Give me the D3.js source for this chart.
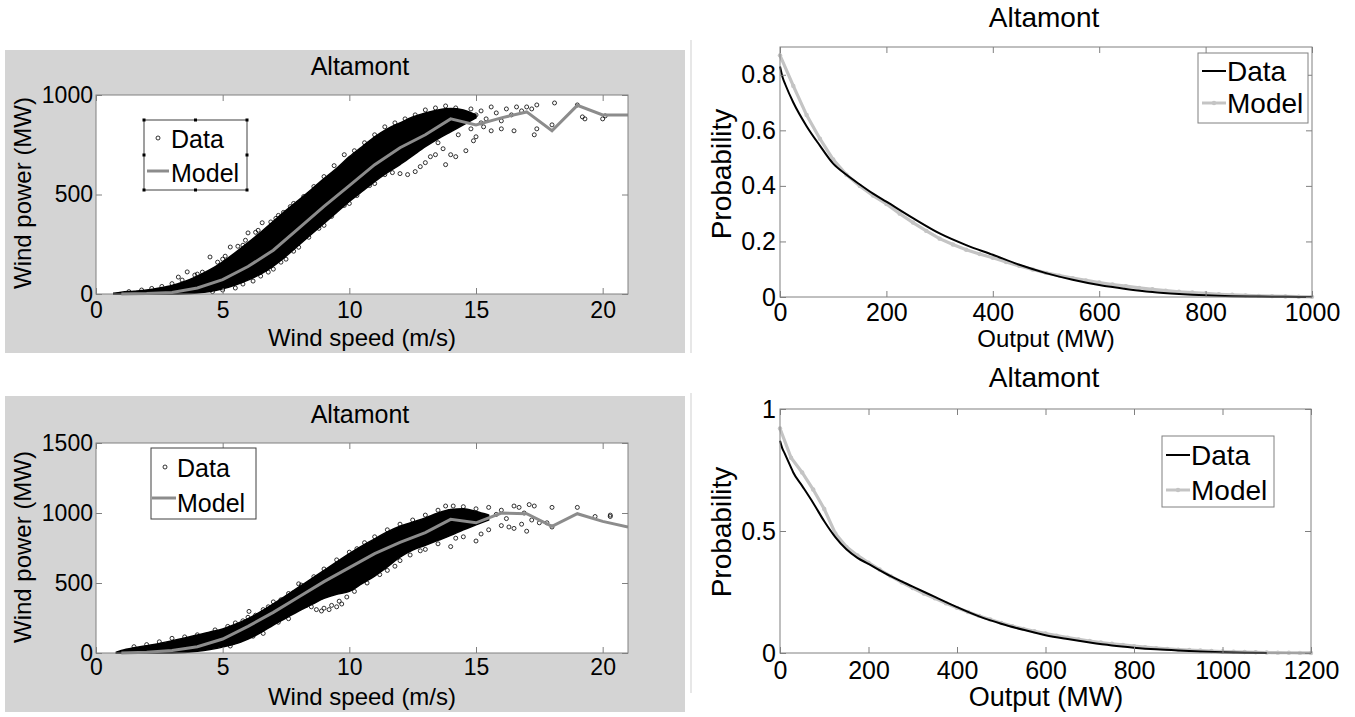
<!DOCTYPE html>
<html>
<head>
<meta charset="utf-8">
<title>Altamont wind power</title>
<script src="https://cdn.jsdelivr.net/npm/d3@7/dist/d3.min.js"></script>
<style>
  body { margin: 0; background: #fff; }
  svg text { font-family: "Liberation Sans", Arial, sans-serif; fill: #000; }
</style>
</head>
<body>
<div id="chart"></div>
<script>
// ---- scatter panels: wind speed (m/s) vs wind power (MW) ----
const modelSpeeds = [1, 2, 3, 4, 5, 6, 7, 8, 9, 10, 11, 12, 13, 14, 15, 16, 17, 18, 19, 20, 21];
const modelPowerTop = [0, 2, 8, 30, 72, 138, 220, 330, 440, 545, 650, 735, 800, 880, 850, 885, 915, 820, 948, 900, 900];
const modelPowerBottom = [0, 5, 18, 45, 100, 190, 290, 400, 510, 610, 710, 790, 860, 955, 930, 1000, 995, 905, 995, 940, 900];

// dense part of the cloud: lower / upper edge per speed
const bandSpeedTop = [0.7, 1, 1.5, 2, 2.5, 3, 3.5, 4, 4.5, 5, 5.5, 6, 6.5, 7, 7.5, 8, 8.5, 9, 9.5, 10, 10.5, 11, 11.5, 12, 12.5, 13, 13.5, 14, 14.5, 15];
const bandLowTop = [0, 0, 0, 0, 0, 0, 1, 5, 13, 26, 45, 70, 100, 140, 190, 245, 300, 355, 410, 465, 515, 565, 610, 650, 695, 740, 780, 815, 850, 885];
const bandHighTop = [4, 9, 14, 20, 30, 43, 63, 90, 122, 162, 208, 258, 310, 365, 420, 472, 525, 580, 632, 690, 740, 790, 830, 860, 890, 910, 925, 932, 925, 900];

const bandSpeedBottom = [0.8, 1, 1.5, 2, 2.5, 3, 3.5, 4, 4.5, 5, 5.5, 6, 6.5, 7, 7.5, 8, 8.5, 9, 9.5, 10, 10.5, 11, 11.5, 12, 12.5, 13, 13.5, 14, 14.5, 15, 15.5];
const bandLowBottom = [0, 0, 0, 0, 0, 0, 3, 12, 25, 42, 65, 100, 145, 200, 250, 300, 345, 390, 420, 440, 495, 550, 615, 685, 735, 770, 805, 840, 880, 915, 950];
const bandHighBottom = [6, 18, 38, 52, 68, 88, 108, 128, 150, 172, 205, 245, 295, 350, 410, 470, 530, 590, 650, 710, 765, 815, 865, 905, 935, 965, 1000, 1025, 1030, 1010, 985];

// individual points around the cloud [speed, power]
const pointsTop = [
  [1.3, 12], [1.8, 20], [2.2, 28], [2.6, 38], [3.0, 52], [3.25, 85], [3.4, 70], [3.6, 111], [3.9, 95], [4.0, 100],
  [4.2, 110], [4.5, 186], [4.8, 160], [5.0, 175], [5.1, 190], [5.3, 236], [5.6, 240], [5.8, 245], [5.9, 270], [6.0, 307],
  [6.3, 310], [6.4, 320], [6.56, 358], [6.9, 362], [7.1, 380], [7.2, 395], [7.4, 410], [7.67, 439], [7.8, 455], [8.2, 490],
  [8.2, 447], [8.6, 540], [9.0, 590], [9.4, 645], [9.8, 700], [10.2, 720], [10.6, 760], [11.0, 800], [11.4, 840], [11.8, 860],
  [12.2, 880], [12.6, 900], [13.0, 925], [13.4, 935], [13.8, 945], [14.2, 935],
  [4.6, 12], [5.0, 20], [5.5, 30], [5.8, 50], [6.2, 65], [6.5, 90], [6.8, 110], [7.0, 125], [7.3, 160], [7.5, 175],
  [7.8, 215], [8.0, 235], [8.4, 285], [8.8, 330], [9.0, 345], [9.3, 390], [9.8, 445], [10.0, 455], [10.3, 495], [10.8, 545],
  [11.0, 555], [11.4, 600], [11.7, 610], [12.0, 605], [12.3, 600], [12.6, 615], [12.8, 640], [13.0, 660], [13.2, 690], [13.4, 700],
  [13.5, 760], [13.7, 730], [13.8, 650], [14.0, 700], [14.2, 690], [14.3, 800], [14.6, 720], [14.8, 830], [14.9, 770], [15.0, 790],
  [15.2, 860], [14.6, 900], [14.8, 930], [15.0, 900], [15.2, 920], [15.4, 880], [15.6, 940], [15.8, 910], [16.0, 870], [16.2, 930],
  [16.4, 900], [16.6, 940], [16.8, 920], [17.0, 940], [17.2, 930], [17.4, 950], [15.3, 840], [15.6, 820], [16.0, 830], [16.5, 820],
  [17.3, 800], [17.4, 830], [18.0, 850], [18.1, 960], [19.0, 950], [19.2, 890], [19.3, 880], [20.0, 880], [20.1, 895]
];
const pointsBottom = [
  [1.5, 45], [2.0, 60], [2.5, 80], [3.0, 105], [3.5, 115], [4.0, 130], [4.7, 165], [5.2, 190], [5.5, 215], [5.8, 230],
  [6.0, 255], [6.04, 297], [6.3, 270], [6.6, 310], [6.8, 330], [7.0, 365], [7.3, 380], [7.6, 425], [7.8, 430], [8.0, 494],
  [8.1, 485], [8.3, 480], [8.6, 545], [8.8, 530], [9.0, 600], [9.3, 590], [9.5, 665], [10.0, 720], [10.3, 745], [10.6, 788],
  [11.0, 830], [11.5, 880], [12.0, 920], [12.5, 950], [13.0, 985], [13.5, 1020], [14.5, 1045], [15.0, 1030],
  [5.3, 50], [6.2, 120], [6.6, 140], [7.2, 220], [7.6, 245], [8.3, 340], [8.5, 330], [8.7, 310], [8.9, 300], [9.0, 320],
  [9.2, 310], [9.3, 340], [9.5, 330], [9.6, 370], [9.7, 350], [9.9, 400], [10.2, 440], [10.7, 500], [11.2, 560], [11.5, 590],
  [11.8, 620], [12.0, 660], [12.4, 700], [12.8, 730], [13.0, 740], [13.5, 780], [14.0, 760], [14.2, 820], [14.5, 830], [15.0, 800],
  [15.2, 850], [15.5, 880], [16.0, 910], [15.5, 1040], [15.8, 990], [16.0, 1020], [16.2, 960], [16.5, 1050], [16.7, 1040], [16.9, 1000],
  [17.1, 1060], [17.3, 1050], [16.3, 900], [16.5, 890], [16.8, 920], [17.0, 870], [17.2, 950], [17.5, 930], [18.0, 900], [18.0, 1040],
  [17.8, 930], [19.0, 1040], [19.7, 975], [20.3, 975], [20.3, 985], [13.8, 1050], [14.1, 1050]
];

// ---- probability panels: output (MW) vs exceedance probability ----
const modelOutputTop = [0, 25, 50, 75, 100, 125, 150, 175, 200, 225, 250, 275, 300, 325, 350, 375, 400, 425, 450, 475, 500,
  525, 550, 575, 600, 625, 650, 675, 700, 725, 750, 775, 800, 825, 850, 875, 900, 925, 950, 975, 1000];
const modelProbTop = [0.87, 0.76, 0.655, 0.57, 0.495, 0.44, 0.40, 0.365, 0.335, 0.30, 0.268, 0.238, 0.21, 0.189, 0.17, 0.155, 0.141, 0.126, 0.112, 0.099, 0.087,
  0.077, 0.068, 0.060, 0.052, 0.045, 0.039, 0.033, 0.028, 0.023, 0.019, 0.016, 0.013, 0.010, 0.008, 0.006, 0.004, 0.003, 0.002, 0.001, 0.0005];
const dataOutputTop = [0, 5, 10, 25, 50, 75, 100, 125, 150, 175, 200, 250, 300, 350, 400, 450, 500, 550, 600, 650, 700, 750, 800, 850, 900, 950, 1000];
const dataProbTop = [0.83, 0.79, 0.765, 0.70, 0.615, 0.545, 0.48, 0.44, 0.405, 0.372, 0.343, 0.284, 0.229, 0.187, 0.152, 0.116, 0.086, 0.062, 0.043, 0.029, 0.018, 0.011, 0.006, 0.003, 0.0015, 0.0005, 0];

const modelOutputBottom = [0, 25, 50, 75, 100, 125, 150, 175, 200, 225, 250, 275, 300, 325, 350, 375, 400, 425, 450, 475, 500,
  525, 550, 575, 600, 625, 650, 675, 700, 725, 750, 775, 800, 825, 850, 875, 900, 925, 950, 975, 1000,
  1025, 1050, 1075, 1100, 1125, 1150, 1175, 1200];
const modelProbBottom = [0.92, 0.80, 0.74, 0.67, 0.59, 0.49, 0.435, 0.40, 0.37, 0.342, 0.315, 0.29, 0.266, 0.244, 0.224, 0.204, 0.185, 0.168, 0.152, 0.137, 0.123,
  0.11, 0.099, 0.089, 0.08, 0.071, 0.063, 0.056, 0.049, 0.043, 0.038, 0.033, 0.028, 0.024, 0.02, 0.017, 0.014, 0.012, 0.01, 0.008, 0.006,
  0.005, 0.004, 0.003, 0.002, 0.0015, 0.001, 0.0005, 0.0003];
const dataOutputBottom = [0, 5, 10, 25, 30, 50, 75, 100, 125, 150, 175, 200, 250, 300, 350, 400, 450, 500, 550, 600, 650, 700, 750, 800, 850, 900, 950, 1000, 1050, 1100];
const dataProbBottom = [0.87, 0.84, 0.82, 0.76, 0.74, 0.685, 0.615, 0.54, 0.475, 0.425, 0.39, 0.365, 0.315, 0.272, 0.23, 0.188, 0.15, 0.12, 0.095, 0.073, 0.057, 0.043, 0.031, 0.022, 0.015, 0.01, 0.006, 0.003, 0.001, 0];

const speedTicks = [0, 5, 10, 15, 20];
const powerTicksTop = [0, 500, 1000];
const powerTicksBottom = [0, 500, 1000, 1500];
const outputTicksTop = [0, 200, 400, 600, 800, 1000];
const outputTicksBottom = [0, 200, 400, 600, 800, 1000, 1200];
const probTicksTop = [0, 0.2, 0.4, 0.6, 0.8];
const probTicksBottom = [0, 0.5, 1];

const FRAME = '#808080';
const MODEL_DARK = '#8c8c8c';
const MODEL_LIGHT = '#c4c4c4';

const svg = d3.select('#chart').append('svg')
  .attr('width', 1355).attr('height', 717);

svg.append('rect').attr('width', 1355).attr('height', 717).attr('fill', '#fff');

// grey figure backgrounds of the left panels
svg.append('rect').attr('x', 5).attr('y', 50).attr('width', 680).attr('height', 303).attr('fill', '#d4d4d4');
svg.append('rect').attr('x', 5).attr('y', 396).attr('width', 680).attr('height', 316).attr('fill', '#d4d4d4');
svg.append('line').attr('x1', 691).attr('x2', 691).attr('y1', 40).attr('y2', 353).attr('stroke', '#cfcfcf');
svg.append('line').attr('x1', 691).attr('x2', 691).attr('y1', 393).attr('y2', 693).attr('stroke', '#cfcfcf');

function text(g, x, y, s, size, anchor, rotate) {
  const t = g.append('text')
    .attr('font-size', size)
    .attr('text-anchor', anchor || 'start')
    .text(s);
  if (rotate) t.attr('transform', `translate(${x},${y}) rotate(${rotate})`);
  else t.attr('x', x).attr('y', y);
  return t;
}

function drawAxes(g, x, y, xt, yt, fs, padX, padY) {
  const [x0, x1] = x.range();
  const [y1, y0] = y.range();
  const fmt = d3.format('~g');
  g.append('g').attr('transform', `translate(0,${y1})`)
    .call(d3.axisBottom(x).tickValues(xt).tickSize(-6).tickPadding(padX).tickFormat(fmt));
  g.append('g').attr('transform', `translate(0,${y0})`)
    .call(d3.axisTop(x).tickValues(xt).tickSize(-6).tickFormat(''));
  g.append('g').attr('transform', `translate(${x0},0)`)
    .call(d3.axisLeft(y).tickValues(yt).tickSize(-6).tickPadding(padY).tickFormat(fmt));
  g.append('g').attr('transform', `translate(${x1},0)`)
    .call(d3.axisRight(y).tickValues(yt).tickSize(-6).tickFormat(''));
  g.selectAll('.domain').remove();
  g.selectAll('.tick line').attr('stroke', FRAME);
  g.selectAll('.tick text').attr('font-size', fs).attr('fill', '#000')
    .attr('font-family', '"Liberation Sans", Arial, sans-serif');
  g.append('rect')
    .attr('x', x0).attr('y', y0).attr('width', x1 - x0).attr('height', y1 - y0)
    .attr('fill', 'none').attr('stroke', FRAME);
}

function drawScatter(p) {
  const g = svg.append('g');
  const x = d3.scaleLinear().domain([0, 21]).range([p.x0, p.x1]);
  const y = d3.scaleLinear().domain([0, p.yMax]).range([p.y1, p.y0]);

  g.append('rect').attr('x', p.x0).attr('y', p.y0)
    .attr('width', p.x1 - p.x0).attr('height', p.y1 - p.y0).attr('fill', '#fff');

  const clipId = 'clip' + p.id;
  g.append('clipPath').attr('id', clipId).append('rect')
    .attr('x', p.x0 - 4).attr('y', p.y0).attr('width', p.x1 - p.x0 + 4).attr('height', p.y1 - p.y0 + 3);
  const inner = g.append('g').attr('clip-path', `url(#${clipId})`);

  const band = p.bandX.map((s, i) => ({ s, lo: p.bandLo[i], hi: p.bandHi[i] }));
  inner.append('path').datum(band)
    .attr('d', d3.area().x(d => x(d.s)).y0(d => y(d.lo)).y1(d => y(d.hi)).curve(d3.curveMonotoneX))
    .attr('fill', '#000').attr('stroke', '#000').attr('stroke-width', 1.5);

  inner.selectAll('circle.pt').data(p.points).join('circle')
    .attr('class', 'pt')
    .attr('cx', d => x(d[0])).attr('cy', d => y(d[1])).attr('r', 2)
    .attr('fill', 'none').attr('stroke', '#000').attr('stroke-width', 0.8);

  inner.append('path').datum(p.modelX.map((s, i) => [s, p.modelY[i]]))
    .attr('d', d3.line().x(d => x(d[0])).y(d => y(d[1])))
    .attr('fill', 'none').attr('stroke', MODEL_DARK).attr('stroke-width', 3);

  drawAxes(g, x, y, speedTicks, p.yTicks, 23, p.padX, 3);

  text(g, 360, p.titleY, 'Altamont', 25, 'middle');
  text(g, 362, p.xLabelY, 'Wind speed (m/s)', 24, 'middle');
  text(g, 31, p.yLabelY, 'Wind power (MW)', 24, 'middle', -90);

  // legend
  const L = p.legend;
  g.append('rect').attr('x', L.x).attr('y', L.y).attr('width', L.w).attr('height', L.h)
    .attr('fill', '#fff').attr('stroke', '#404040');
  if (L.handles) {
    [[0, 0], [0.5, 0], [1, 0], [0, 0.5], [1, 0.5], [0, 1], [0.5, 1], [1, 1]].forEach(([fx, fy]) => {
      g.append('rect').attr('x', L.x + fx * L.w - 1.5).attr('y', L.y + fy * L.h - 1.5)
        .attr('width', 3).attr('height', 3).attr('fill', '#000');
    });
  }
  g.append('circle').attr('cx', L.markX).attr('cy', L.dataY).attr('r', 2)
    .attr('fill', 'none').attr('stroke', '#000').attr('stroke-width', 0.8);
  text(g, L.textX, L.dataBase, 'Data', 25);
  g.append('line').attr('x1', L.lineX0).attr('x2', L.lineX1).attr('y1', L.modelY).attr('y2', L.modelY)
    .attr('stroke', MODEL_DARK).attr('stroke-width', 3);
  text(g, L.textX, L.modelBase, 'Model', 25);
}

function drawProb(p) {
  const g = svg.append('g');
  const x = d3.scaleLinear().domain([0, p.xMax]).range([p.x0, p.x1]);
  const y = d3.scaleLinear().domain([0, p.yMax]).range([p.y1, p.y0]);

  g.append('path').datum(p.modelX.map((v, i) => [v, p.modelY[i]]))
    .attr('d', d3.line().x(d => x(d[0])).y(d => y(d[1])))
    .attr('fill', 'none').attr('stroke', MODEL_LIGHT).attr('stroke-width', 3.2);
  g.selectAll('circle.mk').data(p.modelX.map((v, i) => [v, p.modelY[i]])).join('circle')
    .attr('class', 'mk')
    .attr('cx', d => x(d[0])).attr('cy', d => y(d[1])).attr('r', 2.2).attr('fill', MODEL_LIGHT);

  g.append('path').datum(p.dataX.map((v, i) => [v, p.dataY[i]]))
    .attr('d', d3.line().x(d => x(d[0])).y(d => y(d[1])).curve(d3.curveMonotoneX))
    .attr('fill', 'none').attr('stroke', '#000').attr('stroke-width', 2);

  drawAxes(g, x, y, p.xTicks, p.yTicks, 25, p.padX, 4);

  text(g, 1044, p.titleY, 'Altamont', 28, 'middle');
  text(g, 1046, p.xLabelY, 'Output (MW)', p.xLabelSize, 'middle');
  text(g, 731, p.yLabelY, 'Probability', 28, 'middle', -90);

  const L = p.legend;
  g.append('rect').attr('x', L.x).attr('y', L.y).attr('width', L.w).attr('height', L.h)
    .attr('fill', '#fff').attr('stroke', FRAME);
  g.append('line').attr('x1', L.x + 4).attr('x2', L.x + 28).attr('y1', L.dataY).attr('y2', L.dataY)
    .attr('stroke', '#000').attr('stroke-width', 2);
  text(g, L.x + 29, L.dataY + 10, 'Data', 28);
  g.append('line').attr('x1', L.x + 4).attr('x2', L.x + 28).attr('y1', L.modelY).attr('y2', L.modelY)
    .attr('stroke', MODEL_LIGHT).attr('stroke-width', 3);
  g.append('circle').attr('cx', L.x + 16).attr('cy', L.modelY).attr('r', 2.2).attr('fill', MODEL_LIGHT);
  text(g, L.x + 29, L.modelY + 10, 'Model', 28);
}

drawScatter({
  id: 'tl', x0: 96, x1: 628, y0: 95, y1: 294, yMax: 1000, yTicks: powerTicksTop, padX: 8,
  bandX: bandSpeedTop, bandLo: bandLowTop, bandHi: bandHighTop, points: pointsTop,
  modelX: modelSpeeds, modelY: modelPowerTop,
  titleY: 75, xLabelY: 346, yLabelY: 193,
  legend: { x: 144, y: 120, w: 103, h: 70, handles: true, markX: 158, dataY: 138, textX: 171,
            dataBase: 148, lineX0: 147, lineX1: 169, modelY: 171, modelBase: 182 }
});

drawScatter({
  id: 'bl', x0: 96, x1: 628, y0: 443, y1: 653, yMax: 1500, yTicks: powerTicksBottom, padX: 6,
  bandX: bandSpeedBottom, bandLo: bandLowBottom, bandHi: bandHighBottom, points: pointsBottom,
  modelX: modelSpeeds, modelY: modelPowerBottom,
  titleY: 423, xLabelY: 705, yLabelY: 547,
  legend: { x: 151, y: 448, w: 105, h: 71, handles: false, markX: 165, dataY: 467, textX: 177,
            dataBase: 477, lineX0: 152, lineX1: 176, modelY: 498, modelBase: 512 }
});

drawProb({
  x0: 780, x1: 1312, y0: 47, y1: 297, xMax: 1000, yMax: 0.9,
  xTicks: outputTicksTop, yTicks: probTicksTop, padX: 6,
  modelX: modelOutputTop, modelY: modelProbTop, dataX: dataOutputTop, dataY: dataProbTop,
  titleY: 27, xLabelY: 347, xLabelSize: 24, yLabelY: 174,
  legend: { x: 1198, y: 53, w: 110, h: 70, dataY: 71, modelY: 103 }
});

drawProb({
  x0: 780, x1: 1311, y0: 409, y1: 653, xMax: 1200, yMax: 1,
  xTicks: outputTicksBottom, yTicks: probTicksBottom, padX: 8,
  modelX: modelOutputBottom, modelY: modelProbBottom, dataX: dataOutputBottom, dataY: dataProbBottom,
  titleY: 387, xLabelY: 706, xLabelSize: 27, yLabelY: 532,
  legend: { x: 1162, y: 436, w: 112, h: 71, dataY: 455, modelY: 490 }
});
</script>
</body>
</html>
